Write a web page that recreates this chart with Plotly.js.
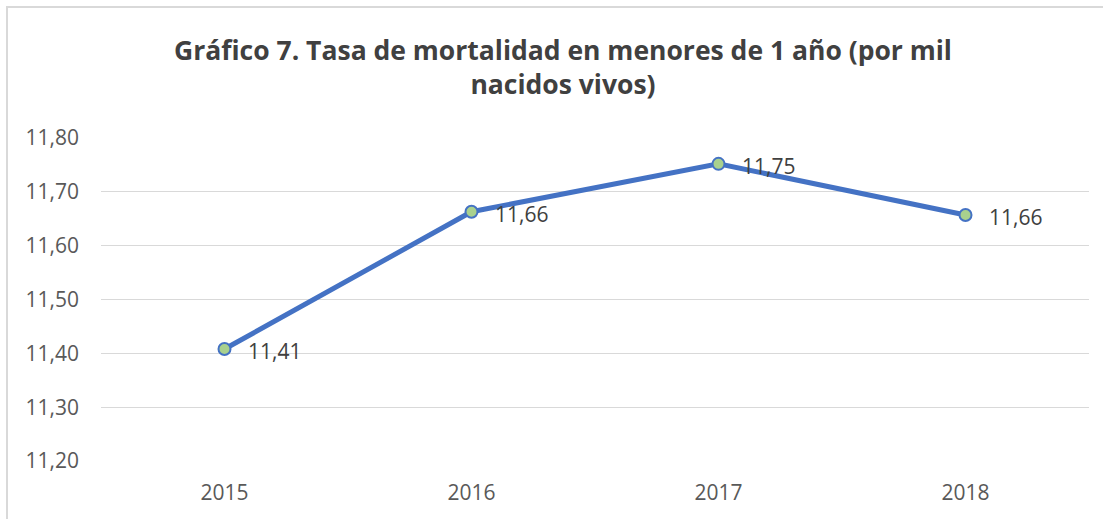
<!DOCTYPE html>
<html>
<head>
<meta charset="utf-8">
<script src="https://cdn.plot.ly/plotly-3.0.1.min.js"></script>
<style>
  html, body { margin: 0; padding: 0; background: #ffffff; }
  #chart { width: 1103px; height: 519px; }
</style>
</head>
<body>
<div id="chart"></div>
<script>
const years = ["2015", "2016", "2017", "2018"];
const rates = [11.408, 11.663, 11.752, 11.657];
const rateLabels = ["11,41", "11,66", "11,75", "11,66"];
const yTickValues = [11.2, 11.3, 11.4, 11.5, 11.6, 11.7, 11.8];
const yTickLabels = ["11,20", "11,30", "11,40", "11,50", "11,60", "11,70", "11,80"];
const chartTitle = "Gráfico 7. Tasa de mortalidad en menores de 1 año (por mil<br>nacidos vivos)";

const FONT = "Open Sans, sans-serif";

const trace = {
  x: years,
  y: rates,
  type: "scatter",
  mode: "lines+markers",
  line: { color: "#4472C4", width: 5 },
  marker: { size: 12, color: "#A9D18E", line: { color: "#4472C4", width: 2 } },
  cliponaxis: false,
  hoverinfo: "skip"
};

// data labels: category axes position annotations by category index
const labelAnnotations = years.map((yr, i) => ({
  x: i, y: rates[i], xref: "x", yref: "y",
  text: rateLabels[i],
  showarrow: false,
  xanchor: "left", yanchor: "middle",
  xshift: 21, yshift: -2,
  font: { family: FONT, size: 21, color: "#404040" }
}));

const layout = {
  width: 1103,
  height: 519,
  margin: { l: 101, r: 14, t: 138, b: 58 },
  paper_bgcolor: "#ffffff",
  plot_bgcolor: "#ffffff",
  showlegend: false,
  title: {
    text: chartTitle,
    font: { family: FONT, size: 26.5, color: "#404040", weight: "bold" },
    xref: "container", yref: "container",
    x: 563 / 1103, xanchor: "center",
    y: 1 - 60 / 519, yanchor: "middle"
  },
  xaxis: {
    type: "category",
    range: [-0.5, 3.5],
    showgrid: false, zeroline: false, showline: false,
    ticks: "",
    ticklabelstandoff: 17,
    tickfont: { family: FONT, size: 21, color: "#595959" }
  },
  yaxis: {
    range: [11.2, 11.8],
    tickvals: yTickValues,
    ticktext: yTickLabels,
    showgrid: true, gridcolor: "#d9d9d9", gridwidth: 1.3,
    zeroline: false, showline: false,
    ticks: "",
    ticklabelstandoff: 21,
    tickfont: { family: FONT, size: 21, color: "#595959" }
  },
  annotations: labelAnnotations,
  shapes: [{
    type: "rect", xref: "paper", yref: "paper",
    x0: (7 - 101) / 988, x1: (1120 - 101) / 988,
    y0: (461 - 540) / 323, y1: (461 - 7) / 323,
    line: { color: "#d9d9d9", width: 2 },
    fillcolor: "rgba(0,0,0,0)",
    layer: "below"
  }]
};

Plotly.newPlot("chart", [trace], layout, { staticPlot: true, displayModeBar: false });
</script>
</body>
</html>
